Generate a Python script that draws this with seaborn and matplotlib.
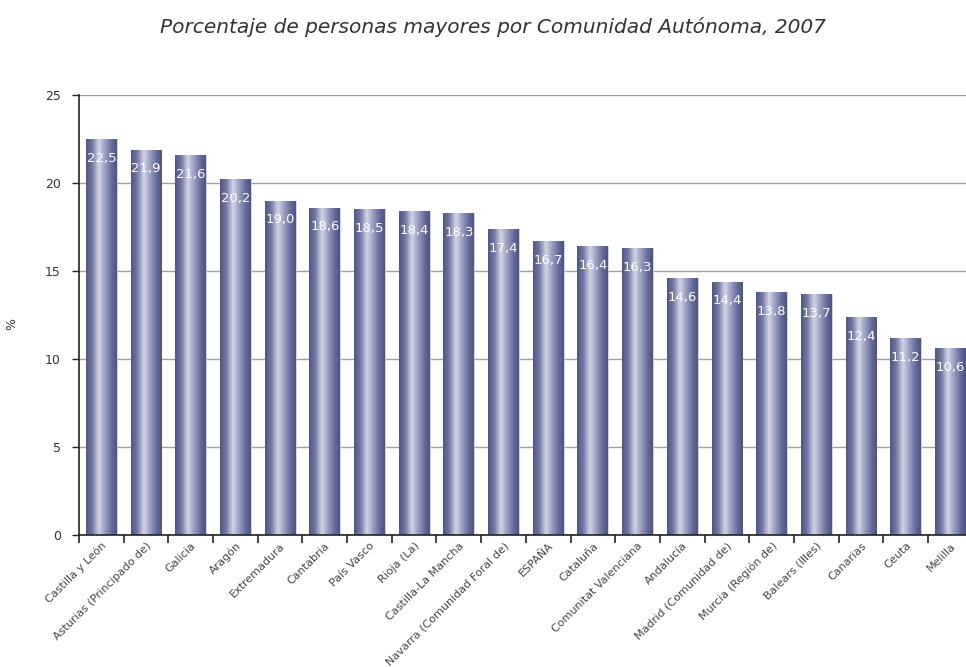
import numpy as np
import pandas as pd
import matplotlib.pyplot as plt
import seaborn as sns
from matplotlib.colors import LinearSegmentedColormap

# datos
comunidades = ["Castilla y León", "Asturias (Principado de)", "Galicia", "Aragón",
               "Extremadura", "Cantabria", "País Vasco", "Rioja (La)",
               "Castilla-La Mancha", "Navarra (Comunidad Foral de)", "ESPAÑA",
               "Cataluña", "Comunitat Valenciana", "Andalucía",
               "Madrid (Comunidad de)", "Murcia (Región de)", "Balears (Illes)",
               "Canarias", "Ceuta", "Melilla"]
porcentajes = [22.5, 21.9, 21.6, 20.2, 19.0, 18.6, 18.5, 18.4, 18.3, 17.4, 16.7,
               16.4, 16.3, 14.6, 14.4, 13.8, 13.7, 12.4, 11.2, 10.6]
etiquetas = ["22,5", "21,9", "21,6", "20,2", "19,0", "18,6", "18,5", "18,4", "18,3",
             "17,4", "16,7", "16,4", "16,3", "14,6", "14,4", "13,8", "13,7", "12,4",
             "11,2", "10,6"]

df = pd.DataFrame({"comunidad": comunidades, "pct": porcentajes})

sns.set_style("white")
plt.rcParams["font.family"] = ["DejaVu Sans"]

fig = plt.figure(figsize=(9.66, 6.67), dpi=100)
ax = fig.add_axes([0.0818, 0.198, 0.9182, 0.6596])

sns.barplot(data=df, x="comunidad", y="pct", color="#5a6190", width=0.69,
            ax=ax, zorder=2)

# degradado tipo cilindro en cada barra
cmap = LinearSegmentedColormap.from_list(
    "cil", [(0.0, "#4f5686"), (0.2, "#7177a2"), (0.42, "#d3d5e6"),
            (0.6, "#9ea3c3"), (0.85, "#60679a"), (1.0, "#4d5483")])
grad = np.linspace(0, 1, 256).reshape(1, -1)
for p, lab in zip(ax.patches, etiquetas):
    x0, y0 = p.get_x(), p.get_y()
    w, h = p.get_width(), p.get_height()
    p.set_facecolor("none")
    p.set_edgecolor("#c9cbdc")
    p.set_linewidth(0.6)
    im = ax.imshow(grad, extent=[x0, x0 + w, y0, y0 + h], aspect="auto",
                   cmap=cmap, zorder=2, interpolation="bicubic")
    im.set_clip_path(p)
    ax.text(x0 + w / 2, y0 + h - 1.1, lab, ha="center", va="center",
            color="white", fontsize=9.5, zorder=4)

ax.set_xlim(-0.5, 19.35)
ax.set_ylim(0, 25)
ax.set_yticks([0, 5, 10, 15, 20, 25])
ax.yaxis.grid(True, color="#a0a0a0", linewidth=1.0, zorder=0)
ax.set_axisbelow(True)

# ticks entre categorías
ax.set_xticks(np.arange(-0.5, 19.5, 1.0), minor=True)
ax.tick_params(axis="x", which="minor", length=6, width=1.2, color="#222222",
               direction="out", bottom=True)
ax.tick_params(axis="x", which="major", length=0, pad=4)
ax.tick_params(axis="y", length=5, width=1.0, color="#222222", left=True,
               labelsize=9, labelcolor="#333333", pad=8)
plt.setp(ax.get_xticklabels(), rotation=45, ha="right", rotation_mode="anchor",
         fontsize=8, color="#444444")

for s in ["top", "right"]:
    ax.spines[s].set_visible(False)
ax.spines["left"].set_color("#222222")
ax.spines["bottom"].set_color("#222222")
ax.spines["left"].set_linewidth(1.2)
ax.spines["bottom"].set_linewidth(1.2)

ax.set_xlabel("")
ax.set_ylabel("%", fontsize=9, color="#333333")
ax.yaxis.set_label_coords(-0.069, 0.48)

fig.suptitle("Porcentaje de personas mayores por Comunidad Autónoma, 2007",
             x=0.51, y=0.975, fontsize=14.5, style="italic", color="#333333")

plt.savefig("out.png", dpi=100)
plt.close()
